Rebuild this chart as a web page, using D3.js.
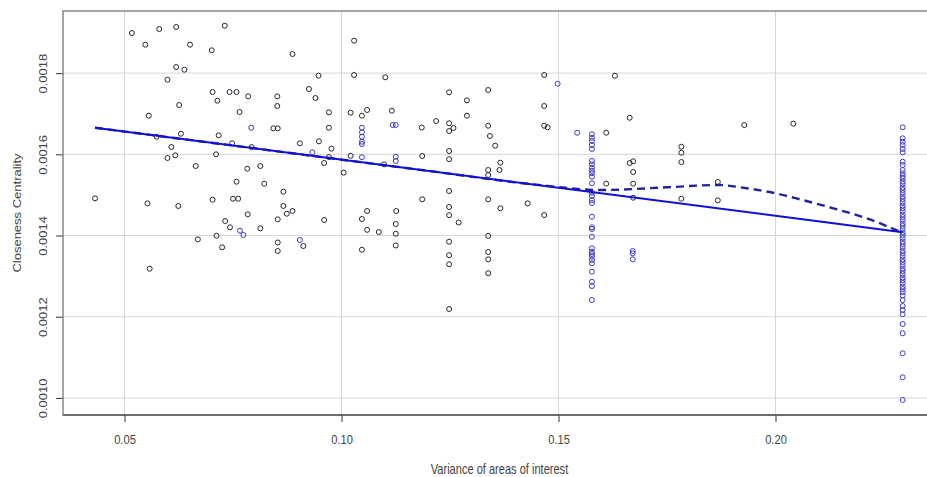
<!DOCTYPE html>
<html>
<head>
<meta charset="utf-8">
<script src="https://cdn.jsdelivr.net/npm/d3@7"></script>
<style>
  body { margin: 0; background: #fff; }
  text { font-family: "Liberation Sans", Arial, sans-serif; }
</style>
</head>
<body>
<div id="vis"></div>
<script>
// ---- data ----
const xTicks = [0.05, 0.10, 0.15, 0.20];
const yTicks = [0.0010, 0.0012, 0.0014, 0.0016, 0.0018];

// scattered points (dark markers)
const scatterPts = [
  [0.0432,0.0014916],[0.0517,0.0018988],[0.0548,0.0018700],[0.0580,0.0019086],[0.0619,0.0019135],
  [0.0651,0.0018700],[0.0701,0.0018562],[0.0731,0.0019167],[0.0887,0.0018470],[0.0619,0.0018150],
  [0.0638,0.0018084],[0.0599,0.0017837],[0.0947,0.0017936],[0.0703,0.0017534],[0.0742,0.0017534],
  [0.0758,0.0017534],[0.0785,0.0017429],[0.0852,0.0017429],[0.0714,0.0017320],[0.0852,0.0017190],
  [0.0925,0.0017608],[0.0940,0.0017387],[0.0626,0.0017214],[0.0765,0.0017042],[0.0971,0.0017034],
  [0.0556,0.0016951],[0.0843,0.0016640],[0.0853,0.0016640],[0.0971,0.0016655],[0.0574,0.0016433],
  [0.0630,0.0016507],[0.0717,0.0016468],[0.0748,0.0016271],[0.0793,0.0016180],[0.0904,0.0016271],
  [0.0948,0.0016320],[0.0977,0.0016138],[0.0971,0.0015933],[0.0608,0.0016180],[0.0599,0.0015909],
  [0.0617,0.0015975],[0.0711,0.0016000],[0.0664,0.0015712],[0.0783,0.0015645],[0.0813,0.0015712],
  [0.0960,0.0015786],[0.0758,0.0015325],[0.0822,0.0015276],[0.0866,0.0015079],[0.0553,0.0014793],
  [0.0624,0.0014727],[0.0703,0.0014882],[0.0750,0.0014906],[0.0762,0.0014906],[0.0866,0.0014727],
  [0.0784,0.0014522],[0.0853,0.0014399],[0.0874,0.0014537],[0.0887,0.0014603],[0.0960,0.0014382],
  [0.0732,0.0014357],[0.0743,0.0014202],[0.0813,0.0014177],[0.0669,0.0013906],[0.0712,0.0013995],
  [0.0725,0.0013709],[0.0853,0.0013828],[0.0912,0.0013741],[0.0853,0.0013618],[0.0558,0.0013182],
  [0.1029,0.0018798],[0.1029,0.0017953],[0.1101,0.0017897],[0.1467,0.0017953],[0.1248,0.0017527],
  [0.1338,0.0017584],[0.1289,0.0017330],[0.1467,0.0017190],[0.1021,0.0017025],[0.1047,0.0016951],
  [0.1059,0.0017091],[0.1116,0.0017074],[0.1289,0.0016951],[0.1185,0.0016660],[0.1218,0.0016820],
  [0.1248,0.0016764],[0.1248,0.0016574],[0.1258,0.0016648],[0.1338,0.0016704],[0.1342,0.0016451],
  [0.1354,0.0016212],[0.1467,0.0016704],[0.1475,0.0016665],[0.1610,0.0016532],[0.1021,0.0015963],
  [0.1098,0.0015754],[0.1005,0.0015547],[0.1186,0.0015958],[0.1248,0.0016081],[0.1248,0.0015879],
  [0.1338,0.0015613],[0.1338,0.0015490],[0.1366,0.0015793],[0.1364,0.0015613],[0.1186,0.0014892],
  [0.1248,0.0015096],[0.1248,0.0014702],[0.1248,0.0014500],[0.1270,0.0014320],[0.1338,0.0014892],
  [0.1366,0.0014670],[0.1429,0.0014793],[0.1467,0.0014505],[0.1610,0.0015278],[0.1047,0.0014406],
  [0.1059,0.0014603],[0.1126,0.0014603],[0.1125,0.0014283],[0.1059,0.0014140],[0.1086,0.0014086],
  [0.1125,0.0014044],[0.1125,0.0013754],[0.1047,0.0013650],[0.1248,0.0013847],[0.1248,0.0013515],
  [0.1248,0.0013291],[0.1248,0.0012190],[0.1338,0.0013993],[0.1338,0.0013594],[0.1338,0.0013414],
  [0.1338,0.0013072],[0.1630,0.0017936],[0.1664,0.0016901],[0.1783,0.0016187],[0.1783,0.0016039],
  [0.1783,0.0015810],[0.1664,0.0015786],[0.1672,0.0015828],[0.1672,0.0015564],[0.1672,0.0015276],
  [0.1672,0.0014931],[0.1783,0.0014906],[0.1867,0.0015318],[0.1867,0.0014867],[0.1928,0.0016722],
  [0.2041,0.0016754]
];

// points that show up blue-tinted
const tintedPts = [
  [0.0792,0.0016655],[0.0933,0.0016049],[0.0766,0.0014118],[0.0774,0.0014012],[0.0904,0.0013889],
  [0.1047,0.0016655],[0.1047,0.0016542],[0.1047,0.0016433],[0.1047,0.0016310],[0.1047,0.0016254],
  [0.1047,0.0015929],[0.1118,0.0016722],[0.1125,0.0016722],[0.1125,0.0015941],[0.1125,0.0015835],
  [0.1498,0.0017739],[0.1543,0.0016532],[0.1671,0.0013618],[0.1671,0.0013562],[0.1671,0.0013414]
];

// the two stacked columns
const col158X = 0.1577;
const col158Y = [
  0.0016493,0.0016409,0.0016328,0.0016229,0.0016131,0.0015835,0.0015754,0.0015670,0.0015596,0.0015532,
  0.0015448,0.0015286,0.0015054,0.0014973,0.0014874,0.0014801,0.0014463,0.0014202,0.0014160,0.0013970,
  0.0013685,0.0013601,0.0013544,0.0013478,0.0013397,0.0013315,0.0013108,0.0012862,0.0012756,0.0012411
];
const col229X = 0.2293;
const col229Y = [
  0.0016665,0.0016394,0.0016310,0.0016229,0.0016131,0.0016049,0.0015818,0.0015736,0.0015613,0.0015532,
  0.0015466,0.0015404,0.0015330,0.0015268,0.0015182,0.0015121,0.0015047,0.0014961,0.0014899,0.0014825,
  0.0014739,0.0014677,0.0014603,0.0014517,0.0014456,0.0014382,0.0014296,0.0014234,0.0014160,0.0014074,
  0.0014012,0.0013938,0.0013852,0.0013791,0.0013717,0.0013631,0.0013569,0.0013495,0.0013409,0.0013347,
  0.0013273,0.0013187,0.0013126,0.0013052,0.0012966,0.0012904,0.0012830,0.0012744,0.0012682,0.0012608,
  0.0012522,0.0012411,0.0012264,0.0012165,0.0012059,0.0011820,0.0011591,0.0011099,0.0010508,0.0009949
];

// linear fit (solid) and smoother (dashed)
const fitLine = [[0.0432, 0.0016655], [0.2293, 0.0014080]];
const loessCurve = [
  [0.0432,0.0016655],[0.0800,0.0016146],[0.1200,0.0015592],[0.1441,0.0015262],[0.1600,0.0015121],
  [0.1749,0.0015187],[0.1867,0.0015244],[0.1934,0.0015163],[0.1994,0.0015054],[0.2056,0.0014892],
  [0.2133,0.0014670],[0.2210,0.0014424],[0.2293,0.0014062]
];

// ---- layout ----
const width = 927;
const height = 477;
const plot = { left: 63, right: 940, top: 11, bottom: 415 };

const x = d3.scaleLinear().domain([0.03583, 0.2379]).range([plot.left, plot.right]);
const y = d3.scaleLinear().domain([0.0009579, 0.001953]).range([plot.bottom, plot.top]);

const svg = d3.select('#vis')
  .append('svg')
  .attr('width', width)
  .attr('height', height)
  .style('display', 'block');

svg.append('rect').attr('width', width).attr('height', height).attr('fill', '#fff');

// grid
const grid = svg.append('g').attr('stroke', '#d6d6d6').attr('stroke-width', 1);
grid.selectAll('.gx').data(xTicks).enter().append('line')
  .attr('x1', d => x(d)).attr('x2', d => x(d))
  .attr('y1', plot.top).attr('y2', plot.bottom);
grid.selectAll('.gy').data(yTicks).enter().append('line')
  .attr('x1', plot.left).attr('x2', plot.right)
  .attr('y1', d => y(d)).attr('y2', d => y(d));

// axes
const xAxis = svg.append('g')
  .attr('transform', `translate(0,${plot.bottom})`)
  .call(d3.axisBottom(x).tickValues(xTicks).tickFormat(d3.format('.2f')).tickSizeOuter(0).tickSize(7));
xAxis.select('.domain').remove();
xAxis.selectAll('line').attr('stroke', '#333');
xAxis.selectAll('text')
  .attr('y', 24).attr('dy', '0.35em')
  .attr('transform', 'scale(0.86,1)')
  .attr('fill', '#444')
  .style('font-size', '13px');

const yAxis = svg.append('g')
  .attr('transform', `translate(${plot.left},0)`)
  .call(d3.axisLeft(y).tickValues(yTicks).tickFormat(d3.format('.4f')).tickSizeOuter(0).tickSize(7));
yAxis.select('.domain').remove();
yAxis.selectAll('line').attr('stroke', '#333');
yAxis.selectAll('text')
  .attr('x', 0).attr('y', 0).attr('dy', '0.35em')
  .attr('text-anchor', 'middle')
  .attr('transform', 'translate(-19.5,0) scale(0.82,1) rotate(-90)')
  .attr('fill', '#444')
  .style('font-size', '13px');

// box
svg.append('rect')
  .attr('x', plot.left).attr('y', plot.top)
  .attr('width', plot.right - plot.left).attr('height', plot.bottom - plot.top)
  .attr('fill', 'none').attr('stroke', '#777').attr('stroke-width', 1.3);
svg.append('line')
  .attr('x1', plot.left).attr('x2', plot.right)
  .attr('y1', plot.bottom).attr('y2', plot.bottom)
  .attr('stroke', '#333').attr('stroke-width', 1.2);

// titles
svg.append('text')
  .attr('transform', 'translate(499.5,469) scale(0.79,1)')
  .attr('text-anchor', 'middle').attr('dy', '0.35em')
  .attr('fill', '#444')
  .style('font-size', '14px')
  .text('Variance of areas of interest');

svg.append('text')
  .attr('transform', 'translate(17.7,213) scale(0.8,1) rotate(-90)')
  .attr('text-anchor', 'middle').attr('dy', '0.35em')
  .attr('fill', '#444')
  .style('font-size', '13px')
  .text('Closeness Centrality');

// points
const dark = '#262636';
const blue = '#3a3ac4';
const radius = 2.5;
const pts = svg.append('g').attr('fill', 'none').attr('stroke-width', 1);

pts.selectAll('.p').data(scatterPts).enter().append('circle')
  .attr('cx', d => x(d[0])).attr('cy', d => y(d[1])).attr('r', radius)
  .attr('stroke', dark);

pts.selectAll('.t').data(tintedPts).enter().append('circle')
  .attr('cx', d => x(d[0])).attr('cy', d => y(d[1])).attr('r', radius)
  .attr('stroke', blue);

pts.selectAll('.c1').data(col158Y).enter().append('circle')
  .attr('cx', x(col158X)).attr('cy', d => y(d)).attr('r', radius)
  .attr('stroke', blue);

pts.selectAll('.c2').data(col229Y).enter().append('circle')
  .attr('cx', x(col229X)).attr('cy', d => y(d)).attr('r', radius)
  .attr('stroke', blue);

// lines
const line = d3.line().x(d => x(d[0])).y(d => y(d[1]));

svg.append('path')
  .datum(loessCurve)
  .attr('d', line.curve(d3.curveMonotoneX))
  .attr('fill', 'none')
  .attr('stroke', '#22229e')
  .attr('stroke-width', 2.4)
  .attr('stroke-dasharray', '8,5');

svg.append('path')
  .datum(fitLine)
  .attr('d', d3.line().x(d => x(d[0])).y(d => y(d[1])))
  .attr('fill', 'none')
  .attr('stroke', '#1010d8')
  .attr('stroke-width', 2);
</script>
</body>
</html>
